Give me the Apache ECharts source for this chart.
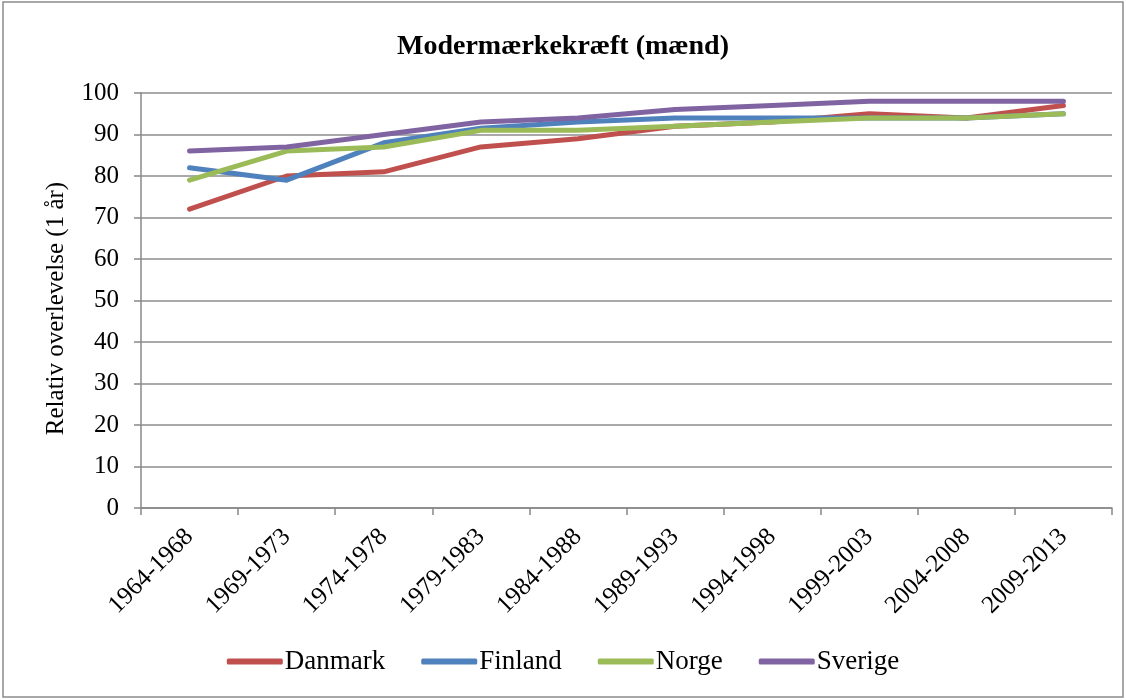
<!DOCTYPE html>
<html><head><meta charset="utf-8">
<script src="https://cdn.jsdelivr.net/npm/echarts@6/dist/echarts.min.js"></script>
<style>html,body{margin:0;padding:0;background:#fff}#c{width:1126px;height:700px}</style>
</head><body><div id="c"></div>
<script>
const categories = ['1964-1968','1969-1973','1974-1978','1979-1983','1984-1988','1989-1993','1994-1998','1999-2003','2004-2008','2009-2013'];
const danmark = [72, 80, 81, 87, 89, 92, 93, 95, 94, 97];
const finland = [82, 79, 88, 91.5, 93, 94, 94, 94, 94, 95];
const norge   = [79, 86, 87, 91, 91, 92, 93, 94, 94, 95];
const sverige = [86, 87, 90, 93, 94, 96, 97, 98, 98, 98];
const seriesNames = ['Danmark','Finland','Norge','Sverige'];
const colors = ['#C0504D','#4F81BD','#9BBB59','#8064A2'];
const yTicks = {min:0, max:100, interval:10};

const font = '"Liberation Serif","Times New Roman",serif';
const chart = echarts.init(document.getElementById('c'));
const dataSets = [danmark, finland, norge, sverige];
chart.setOption({
  animation:false,
  backgroundColor:'#fff',
  graphic:[{type:'rect',shape:{x:3,y:2,width:1120,height:695},style:{fill:'none',stroke:'#8c8c8c',lineWidth:1.5},silent:true}],
  title:{text:'Modermærkekræft (mænd)',left:'center',top:28,textStyle:{fontFamily:font,fontSize:28,fontWeight:'bold',color:'#000'}},
  legend:{bottom:20,left:'center',itemWidth:56,itemHeight:6,itemGap:36,icon:'roundRect',
    textStyle:{fontFamily:font,fontSize:27,color:'#000',padding:[0,0,0,-3]},
    data:seriesNames},
  grid:{left:141,right:14,top:93,bottom:192,containLabel:false},
  xAxis:{type:'category',data:categories,boundaryGap:true,
    axisLine:{lineStyle:{color:'#888',width:1.5}},
    axisTick:{show:true,alignWithLabel:false,length:7,lineStyle:{color:'#888',width:1.5}},
    axisLabel:{rotate:45,margin:25,fontFamily:font,fontSize:25,color:'#000',interval:0}},
  yAxis:{type:'value',min:yTicks.min,max:yTicks.max,interval:yTicks.interval,
    name:'Relativ overlevelse (1 år)',nameLocation:'middle',nameGap:72,
    nameTextStyle:{fontFamily:font,fontSize:25,color:'#000',padding:[0,0,0,-16]},
    axisLine:{show:true,lineStyle:{color:'#888',width:1.5}},
    axisTick:{show:true,length:7,lineStyle:{color:'#888',width:1.5}},
    axisLabel:{margin:22,fontFamily:font,fontSize:25,color:'#000'},
    splitLine:{lineStyle:{color:'#8c8c8c',width:1.5}}},
  series: seriesNames.map((n,i)=>({name:n,type:'line',data:dataSets[i],symbol:'none',
    lineStyle:{color:colors[i],width:5,cap:'round',join:'round'},itemStyle:{color:colors[i]}}))
});
</script></body></html>
